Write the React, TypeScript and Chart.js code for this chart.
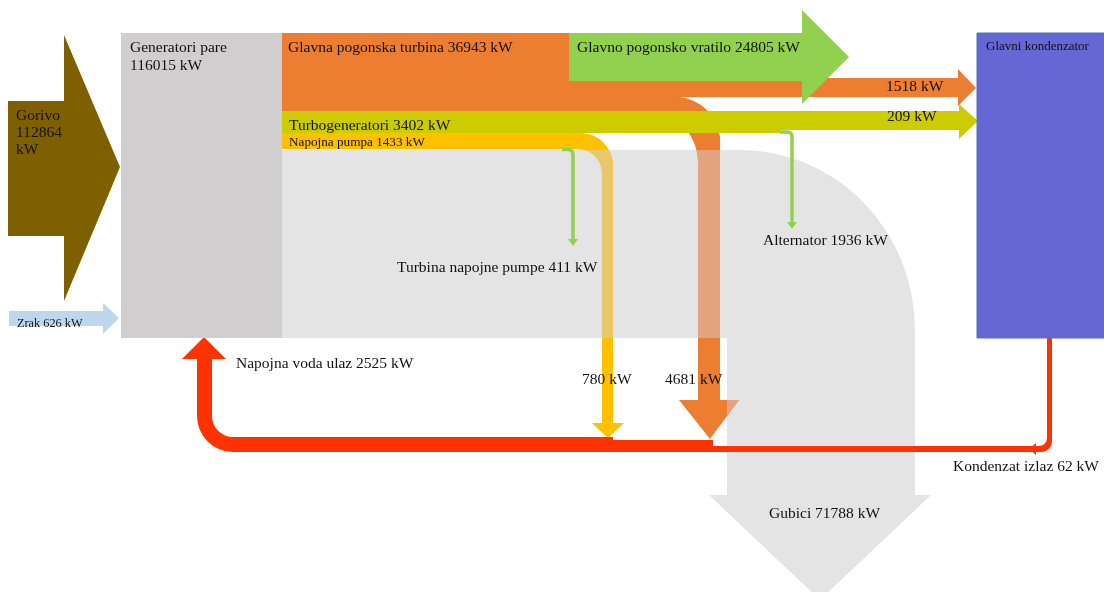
import React, { useEffect, useRef } from "react";
import { Chart, registerables } from "chart.js";

Chart.register(...registerables);

// ---------------- DATA (kW) ----------------
const flowNames = [
  "Gorivo",
  "Zrak",
  "Generatori pare",
  "Glavna pogonska turbina",
  "Glavno pogonsko vratilo",
  "Turbogeneratori",
  "Napojna pumpa",
  "Turbina napojne pumpe",
  "Alternator",
  "Napojna voda ulaz",
  "Gubici",
  "Kondenzat izlaz",
];
const flowValues = [112864, 626, 116015, 36943, 24805, 3402, 1433, 411, 1936, 2525, 71788, 62];
// unnamed branches: turbine -> condenser, turbogen -> condenser, pump -> return, turbine -> return
const branchValues = [1518, 209, 780, 4681];
const condenserName = "Glavni kondenzator";

// ---------------- LAYOUT (diagram units) ----------------
const W = 1104;
const H = 592;
const FONT = '"Liberation Serif", "Times New Roman", serif';

type Cmd = (string | number | boolean)[];

const SHAPES: Record<string, Cmd[]> = {
  gorivo: [["M", 8, 101], ["L", 64, 101], ["L", 64, 35], ["L", 120, 167], ["L", 64, 301], ["L", 64, 236], ["L", 8, 236]],
  zrak: [["M", 9, 311], ["L", 103, 311], ["L", 103, 303], ["L", 119, 318], ["L", 103, 334], ["L", 103, 326], ["L", 9, 326]],
  generatori: [["M", 121, 33], ["L", 282, 33], ["L", 282, 338], ["L", 121, 338]],
  grey: [
    ["M", 282, 150], ["L", 740, 150], ["E", 740, 330, 175, 180, -Math.PI / 2, 0], ["L", 915, 495], ["L", 931, 495],
    ["L", 820, 600], ["L", 709, 495], ["L", 727, 495], ["L", 727, 338], ["L", 282, 338],
  ],
  orangeMain: [["M", 282, 33], ["L", 570, 33], ["L", 570, 111], ["L", 282, 111]],
  orangeCond: [["M", 569, 78], ["L", 958, 78], ["L", 958, 69], ["L", 976, 88], ["L", 958, 106], ["L", 958, 97], ["L", 569, 97]],
  orangeLoss: [
    ["M", 569, 97], ["L", 675, 97], ["A", 675, 142, 45, -Math.PI / 2, 0, false], ["L", 720, 400], ["L", 739, 400],
    ["L", 710, 439], ["L", 679, 400], ["L", 698, 400], ["L", 698, 162], ["A", 647, 162, 51, 0, -Math.PI / 2, true], ["L", 569, 111],
  ],
  green: [["M", 569, 33], ["L", 802, 33], ["L", 802, 10], ["L", 849, 57], ["L", 802, 104], ["L", 802, 81], ["L", 569, 81]],
  turbogen: [
    ["M", 280, 111], ["L", 959, 111], ["L", 959, 104], ["L", 978, 121], ["L", 959, 139], ["L", 959, 130],
    ["L", 780, 130], ["L", 780, 133], ["L", 280, 133],
  ],
  pump: [
    ["M", 282, 133], ["L", 580, 133], ["A", 580, 166, 33, -Math.PI / 2, 0, false], ["L", 613, 423], ["L", 624, 423],
    ["L", 608, 438], ["L", 592, 423], ["L", 602, 423], ["L", 602, 173], ["A", 578, 173, 24, 0, -Math.PI / 2, true], ["L", 282, 149],
  ],
  red: [
    ["M", 204, 337], ["L", 226, 359], ["L", 212, 359], ["L", 212, 416], ["A", 233, 416, 21, Math.PI, Math.PI / 2, true],
    ["L", 613, 437], ["L", 613, 440], ["L", 713, 440], ["L", 713, 446], ["L", 1039, 446],
    ["A", 1039, 438, 8, Math.PI / 2, 0, true], ["L", 1047, 338], ["L", 1052, 338], ["L", 1052, 441],
    ["A", 1041, 441, 11, 0, Math.PI / 2, false], ["L", 233, 452], ["A", 233, 416, 36, Math.PI / 2, Math.PI, false],
    ["L", 197, 359], ["L", 182, 359],
  ],
  redTip: [["M", 1036, 443], ["L", 1029, 449], ["L", 1036, 455]],
  condenser: [["M", 977, 33], ["L", 1104, 33], ["L", 1104, 338], ["L", 977, 338]],
};

const LINES: { path: Cmd[]; head: Cmd[] }[] = [
  {
    path: [["M", 562, 149.5], ["L", 568, 149.5], ["Q", 573, 149.5, 573, 155], ["L", 573, 240]],
    head: [["M", 568, 239], ["L", 578, 239], ["L", 573, 246]],
  },
  {
    path: [["M", 780, 132], ["L", 787, 132], ["Q", 792, 132, 792, 137], ["L", 792, 223]],
    head: [["M", 787, 222], ["L", 797, 222], ["L", 792, 229]],
  },
];

const COLORS = {
  gorivo: "#7F6000",
  zrak: "#BDD7EE",
  generatori: "#D0CECE",
  grey: "#E4E4E4",
  orange: "#ED7D31",
  orangeFaded: "#E3A57F",
  green: "#92D050",
  turbogen: "#CCCC00",
  pump: "#FFC000",
  pumpFaded: "#E9C86B",
  red: "#FF3300",
  condenser: "#6666D5",
  text: "#111111",
};

const kw = (v: number) => `${v} kW`;

// text entries: [lines, x, y(baseline of first line), size, lineHeight]
const TEXTS: [string[], number, number, number, number][] = [
  [[flowNames[0], String(flowValues[0]), "kW"], 16, 120, 15.5, 17],
  [[`${flowNames[1]} ${kw(flowValues[1])}`], 17, 327, 12.3, 0],
  [[flowNames[2], kw(flowValues[2])], 130, 52, 15.5, 17.5],
  [[`${flowNames[3]} ${kw(flowValues[3])}`], 288, 52, 15.5, 0],
  [[`${flowNames[4]} ${kw(flowValues[4])}`], 577, 52, 15.5, 0],
  [[kw(branchValues[0])], 886, 91, 15.5, 0],
  [[kw(branchValues[1])], 887, 121, 15.5, 0],
  [[`${flowNames[5]} ${kw(flowValues[5])}`], 289, 130, 15.5, 0],
  [[`${flowNames[6]} ${kw(flowValues[6])}`], 289, 146, 13.2, 0],
  [[condenserName], 986, 50, 13, 0],
  [[`${flowNames[7]} ${kw(flowValues[7])}`], 397, 272, 15.5, 0],
  [[`${flowNames[8]} ${kw(flowValues[8])}`], 763, 245, 15.5, 0],
  [[`${flowNames[9]} ${kw(flowValues[9])}`], 236, 368, 15.5, 0],
  [[kw(branchValues[2])], 582, 384, 15.5, 0],
  [[kw(branchValues[3])], 665, 384, 15.5, 0],
  [[`${flowNames[11]} ${kw(flowValues[11])}`], 953, 471, 15.5, 0],
  [[`${flowNames[10]} ${kw(flowValues[10])}`], 769, 518, 15.5, 0],
];

const sankeyPlugin = {
  id: "manualSankey",
  afterDraw(chart: any) {
    const ctx: CanvasRenderingContext2D = chart.ctx;
    const xs = chart.scales.x;
    const ys = chart.scales.y;
    const X = (v: number) => xs.getPixelForValue(v);
    const Y = (v: number) => ys.getPixelForValue(v);
    const R = (r: number) => Math.abs(X(r) - X(0));
    const RY = (r: number) => Math.abs(Y(r) - Y(0));

    const trace = (cmds: Cmd[], close = true) => {
      ctx.beginPath();
      for (const c of cmds) {
        const t = c[0];
        if (t === "M") ctx.moveTo(X(c[1] as number), Y(c[2] as number));
        else if (t === "L") ctx.lineTo(X(c[1] as number), Y(c[2] as number));
        else if (t === "Q")
          ctx.quadraticCurveTo(X(c[1] as number), Y(c[2] as number), X(c[3] as number), Y(c[4] as number));
        else if (t === "A")
          ctx.arc(X(c[1] as number), Y(c[2] as number), R(c[3] as number), c[4] as number, c[5] as number, c[6] as boolean);
        else if (t === "E")
          ctx.ellipse(X(c[1] as number), Y(c[2] as number), R(c[3] as number), RY(c[4] as number), 0, c[5] as number, c[6] as number);
      }
      if (close) ctx.closePath();
    };
    const fill = (cmds: Cmd[], color: string) => {
      trace(cmds);
      ctx.fillStyle = color;
      ctx.fill();
    };

    ctx.save();
    // losses region
    fill(SHAPES.grey, COLORS.grey);
    // downward flows
    fill(SHAPES.orangeLoss, COLORS.orange);
    fill(SHAPES.pump, COLORS.pump);
    // faded parts over the loss region
    ctx.save();
    trace(SHAPES.grey);
    ctx.clip();
    fill(SHAPES.orangeLoss, COLORS.orangeFaded);
    fill(SHAPES.pump, COLORS.pumpFaded);
    ctx.restore();
    // re-draw top parts above grey in full colour
    ctx.save();
    ctx.beginPath();
    ctx.rect(X(0), Y(0), X(W) - X(0), Y(150) - Y(0));
    ctx.clip();
    fill(SHAPES.pump, COLORS.pump);
    fill(SHAPES.orangeLoss, COLORS.orange);
    ctx.restore();

    fill(SHAPES.orangeMain, COLORS.orange);
    fill(SHAPES.orangeCond, COLORS.orange);
    fill(SHAPES.green, COLORS.green);
    fill(SHAPES.turbogen, COLORS.turbogen);

    // thin green branches
    for (const l of LINES) {
      trace(l.path, false);
      ctx.strokeStyle = COLORS.green;
      ctx.lineWidth = 3.5;
      ctx.lineJoin = "round";
      ctx.stroke();
      fill(l.head, COLORS.green);
    }

    // return line
    fill(SHAPES.red, COLORS.red);
    fill(SHAPES.redTip, COLORS.red);

    // nodes
    fill(SHAPES.gorivo, COLORS.gorivo);
    fill(SHAPES.zrak, COLORS.zrak);
    fill(SHAPES.generatori, COLORS.generatori);
    fill(SHAPES.condenser, COLORS.condenser);
    ctx.strokeStyle = "#5570B5";
    ctx.lineWidth = 1;
    ctx.stroke();

    // labels
    ctx.fillStyle = COLORS.text;
    ctx.textBaseline = "alphabetic";
    ctx.textAlign = "left";
    for (const [lines, x, y, size, lh] of TEXTS) {
      ctx.font = `${size}px ${FONT}`;
      lines.forEach((s, i) => ctx.fillText(s, X(x), Y(y + i * lh)));
    }
    ctx.restore();
  },
};

export default function App() {
  const ref = useRef<HTMLCanvasElement>(null);
  useEffect(() => {
    if (!ref.current) return;
    const chart = new Chart(ref.current, {
      type: "scatter",
      data: { datasets: [{ data: [] }] },
      options: {
        responsive: false,
        animation: false,
        events: [],
        layout: { padding: 0 },
        plugins: { legend: { display: false }, tooltip: { enabled: false } },
        scales: {
          x: { type: "linear", min: 0, max: W, display: false },
          y: { type: "linear", min: 0, max: H, reverse: true, display: false },
        },
      },
      plugins: [sankeyPlugin],
    } as any);
    return () => chart.destroy();
  }, []);
  return (
    <canvas
      ref={ref}
      width={W}
      height={H}
      style={{ position: "fixed", left: 0, top: 0, display: "block", width: W, height: H }}
    />
  );
}
